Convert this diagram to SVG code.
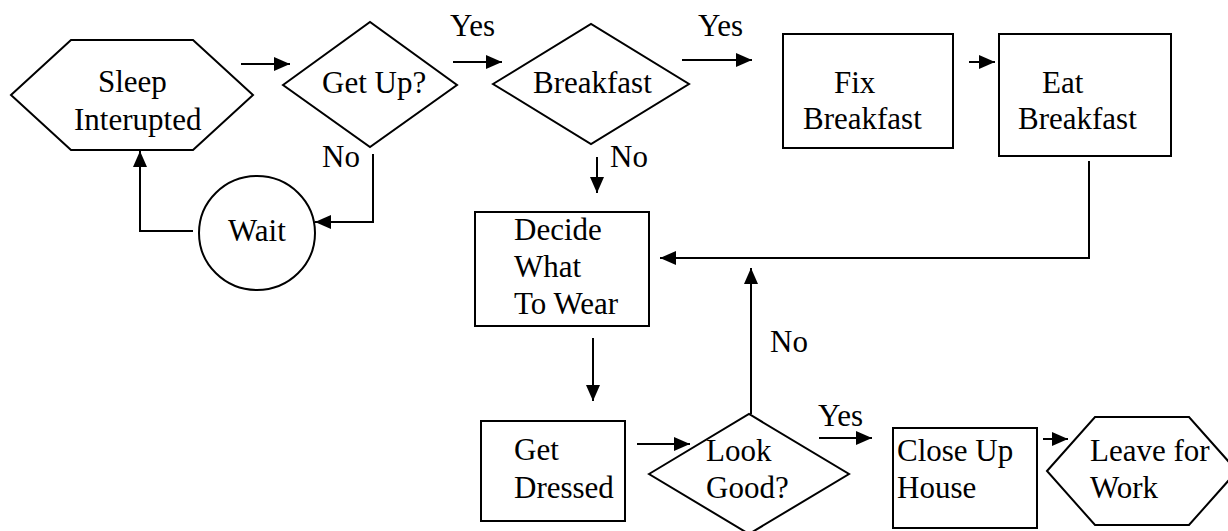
<svg xmlns="http://www.w3.org/2000/svg" width="1228" height="531" viewBox="0 0 1228 531">
<style>
.s{fill:#fff;stroke:#000;stroke-width:2}
.c{fill:none;stroke:#000;stroke-width:2}
</style>
<defs>
<marker id="a" markerUnits="userSpaceOnUse" markerWidth="16" markerHeight="14" refX="16" refY="7" orient="auto">
<path d="M0,0 L16,7 L0,14 Z" fill="#000"/>
</marker>
</defs>
<rect width="1228" height="531" fill="#fff"/>
<g id="connectors">
<path class="c" d="M241,64 H290" marker-end="url(#a)"/>
<path class="c" d="M453,62 H502" marker-end="url(#a)"/>
<path class="c" d="M682,60 H752" marker-end="url(#a)"/>
<path class="c" d="M969,62 H995" marker-end="url(#a)"/>
<path class="c" d="M373,154 V222 H315" marker-end="url(#a)"/>
<path class="c" d="M193,231 H140 V151" marker-end="url(#a)"/>
<path class="c" d="M597,157 V193" marker-end="url(#a)"/>
<path class="c" d="M1089,161 V258 H660" marker-end="url(#a)"/>
<path class="c" d="M593,338 V401" marker-end="url(#a)"/>
<path class="c" d="M637,444 H690" marker-end="url(#a)"/>
<path class="c" d="M751,414 V268" marker-end="url(#a)"/>
<path class="c" d="M819,438 H872" marker-end="url(#a)"/>
<path class="c" d="M1043,439 H1068" marker-end="url(#a)"/>
<text font-family="Liberation Serif" font-size="31" x="450" y="36">Yes</text>
<text font-family="Liberation Serif" font-size="31" x="698" y="36">Yes</text>
<text font-family="Liberation Serif" font-size="31" x="322" y="167">No</text>
<text font-family="Liberation Serif" font-size="31" x="610" y="167">No</text>
<text font-family="Liberation Serif" font-size="31" x="770" y="352">No</text>
<text font-family="Liberation Serif" font-size="31" x="818" y="426">Yes</text>
</g>
<g id="sleep">
<polygon class="s" points="11,95 71,40 193,40 253,95 193,150 71,150"/>
<text font-family="Liberation Serif" font-size="31" x="98" y="92">Sleep</text>
<text font-family="Liberation Serif" font-size="31" x="74" y="130">Interupted</text>
</g>
<g id="getup">
<polygon class="s" points="283,85 370,22 457,85 370,147"/>
<text font-family="Liberation Serif" font-size="31" x="322" y="93">Get Up?</text>
</g>
<g id="wait">
<ellipse class="s" cx="257" cy="233" rx="58" ry="57"/>
<text font-family="Liberation Serif" font-size="31" x="228" y="241">Wait</text>
</g>
<g id="breakfast">
<polygon class="s" points="493,84 591,24 689,84 591,144"/>
<text font-family="Liberation Serif" font-size="31" x="533" y="93">Breakfast</text>
</g>
<g id="fix">
<rect class="s" x="783" y="34" width="170" height="114"/>
<text font-family="Liberation Serif" font-size="31" x="834" y="93">Fix</text>
<text font-family="Liberation Serif" font-size="31" x="803" y="129">Breakfast</text>
</g>
<g id="eat">
<rect class="s" x="999" y="34" width="172" height="122"/>
<text font-family="Liberation Serif" font-size="31" x="1042" y="93">Eat</text>
<text font-family="Liberation Serif" font-size="31" x="1018" y="129">Breakfast</text>
</g>
<g id="decide">
<rect class="s" x="475" y="212" width="174" height="114"/>
<text font-family="Liberation Serif" font-size="31" x="514" y="240">Decide</text>
<text font-family="Liberation Serif" font-size="31" x="514" y="277">What</text>
<text font-family="Liberation Serif" font-size="31" x="514" y="314">To Wear</text>
</g>
<g id="dressed">
<rect class="s" x="481" y="421" width="144" height="100"/>
<text font-family="Liberation Serif" font-size="31" x="514" y="460">Get</text>
<text font-family="Liberation Serif" font-size="31" x="514" y="498">Dressed</text>
</g>
<g id="lookgood">
<polygon class="s" points="649,474 749,414 849,474 749,534"/>
<text font-family="Liberation Serif" font-size="31" x="706" y="461">Look</text>
<text font-family="Liberation Serif" font-size="31" x="706" y="498">Good?</text>
</g>
<g id="closeup">
<rect class="s" x="893" y="428" width="144" height="100"/>
<text font-family="Liberation Serif" font-size="31" x="897" y="461">Close Up</text>
<text font-family="Liberation Serif" font-size="31" x="897" y="498">House</text>
</g>
<g id="leave">
<polygon class="s" points="1047,471 1095,417 1189,417 1237,471 1189,525 1095,525"/>
<text font-family="Liberation Serif" font-size="31" x="1090" y="461">Leave for</text>
<text font-family="Liberation Serif" font-size="31" x="1090" y="498">Work</text>
</g>
</svg>
